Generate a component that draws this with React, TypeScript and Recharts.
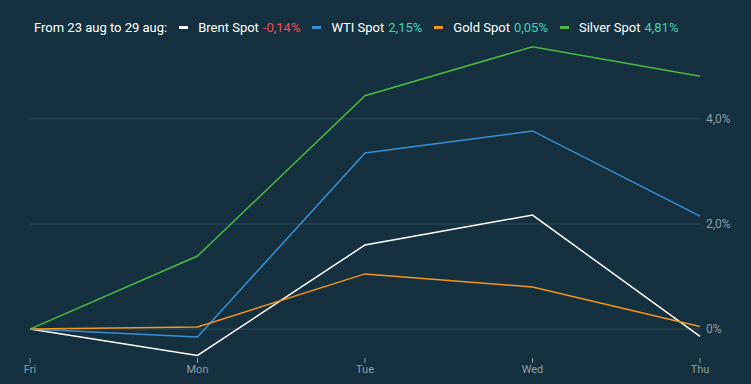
import React from "react";
import { LineChart, Line, XAxis, YAxis, CartesianGrid } from "recharts";

const days = ["Fri", "Mon", "Tue", "Wed", "Thu"];
const brent = [0, -0.5, 1.6, 2.17, -0.14];
const wti = [0, -0.15, 3.35, 3.77, 2.15];
const gold = [0, 0.04, 1.05, 0.8, 0.05];
const silver = [0, 1.39, 4.44, 5.37, 4.81];
const yTicks = [0, 2, 4];

const series = [
  { key: "brent", name: "Brent Spot", color: "#ffffff", change: "-0,14%" },
  { key: "wti", name: "WTI Spot", color: "#3a8fd3", change: "2,15%" },
  { key: "gold", name: "Gold Spot", color: "#f7941d", change: "0,05%" },
  { key: "silver", name: "Silver Spot", color: "#4cb843", change: "4,81%" },
];

const data = days.map((d, i) => ({
  day: d,
  brent: brent[i],
  wti: wti[i],
  gold: gold[i],
  silver: silver[i],
}));

const font = "Roboto, 'Open Sans', sans-serif";
const tickColor = "#8c9ea8";

function fmtPct(v: number) {
  return v === 0 ? "0%" : `${v.toFixed(1).replace(".", ",")}%`;
}

// legend row sits above the plot, drawn as plain html
function TopLegend() {
  return (
    <div
      style={{
        position: "absolute",
        left: 34,
        top: 17,
        display: "flex",
        alignItems: "center",
        fontFamily: font,
        fontSize: 13,
        color: "#ffffff",
        height: 20,
        whiteSpace: "nowrap",
        zIndex: 1,
      }}
    >
      <span style={{ marginRight: 12 }}>From 23 aug to 29 aug:</span>
      {series.map((s) => (
        <span
          key={s.key}
          style={{ display: "flex", alignItems: "center", marginRight: 12 }}
        >
          <span
            style={{
              display: "inline-block",
              width: 9,
              height: 3,
              background: s.color,
              marginRight: 10,
            }}
          />
          <span>{s.name}</span>
          <span
            style={{
              marginLeft: 4,
              color: s.change.startsWith("-") ? "#f24b55" : "#41d1b6",
            }}
          >
            {s.change}
          </span>
        </span>
      ))}
    </div>
  );
}

export default function App() {
  return (
    <div
      style={{
        position: "fixed",
        left: 0,
        top: 0,
        width: 751,
        height: 384,
        background: "#15313f",
      }}
    >
      <TopLegend />
      <LineChart
        width={751}
        height={384}
        data={data}
        margin={{ top: 40, right: 0, left: 30, bottom: 0 }}
      >
        <CartesianGrid
          vertical={false}
          stroke="#2c4c57"
          strokeWidth={1}
          syncWithTicks
        />
        <XAxis
          dataKey="day"
          height={26}
          axisLine={false}
          tickLine={{ stroke: tickColor }}
          tickSize={5}
          tickMargin={2}
          tick={{ fill: tickColor, fontSize: 11, fontFamily: font }}
          interval={0}
        />
        <YAxis
          orientation="right"
          width={51}
          domain={[-0.55, 5.5]}
          ticks={yTicks}
          allowDataOverflow
          axisLine={false}
          tickLine={false}
          tickFormatter={fmtPct}
          tick={{
            fill: tickColor,
            fontSize: 12,
            fontFamily: font,
            textAnchor: "start",
            dx: -2,
          }}
        />
        {series.map((s) => (
          <Line
            key={s.key}
            type="linear"
            dataKey={s.key}
            name={s.name}
            stroke={s.color}
            strokeWidth={1.5}
            dot={false}
            activeDot={false}
            isAnimationActive={false}
          />
        ))}
      </LineChart>
    </div>
  );
}
